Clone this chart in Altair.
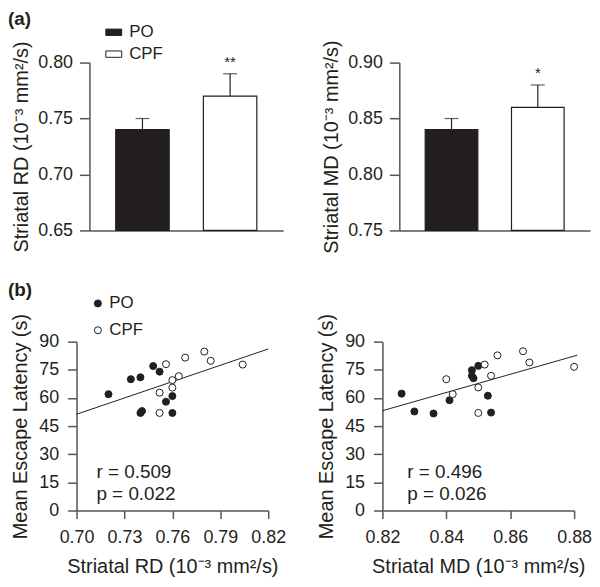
import altair as alt
import pandas as pd

# ---------------- data ----------------
groups = ["PO", "CPF"]
rd_mean = [0.74, 0.77]
rd_err = [0.01, 0.02]
rd_sig = ["", "**"]
md_mean = [0.84, 0.86]
md_err = [0.01, 0.02]
md_sig = ["", "*"]

po_rd = [0.720, 0.734, 0.740, 0.740, 0.741, 0.748, 0.752, 0.756, 0.760, 0.760]
po_rd_lat = [62, 70, 71, 52, 53, 77, 74, 58, 61, 52]
cpf_rd = [0.756, 0.768, 0.780, 0.784, 0.804, 0.764, 0.760, 0.760, 0.752, 0.752]
cpf_rd_lat = [78, 81.5, 84.7, 79.8, 77.8, 71.6, 69.5, 65.5, 62.8, 52]

po_md = [0.826, 0.830, 0.836, 0.841, 0.848, 0.848, 0.8485, 0.850, 0.853, 0.854]
po_md_lat = [62.3, 52.8, 51.7, 58.8, 74.8, 71.8, 70.5, 77.1, 61.2, 52.2]
cpf_md = [0.840, 0.842, 0.850, 0.850, 0.852, 0.854, 0.856, 0.864, 0.866, 0.880]
cpf_md_lat = [70, 62, 65.6, 52, 77.8, 71.8, 82.7, 84.9, 78.9, 76.6]

fit_rd_x = [0.70, 0.82]
fit_rd_y = [51.3, 86.1]
fit_md_x = [0.82, 0.881]
fit_md_y = [53.2, 82.8]

r_text = ["r = 0.509", "r = 0.496"]
p_text = ["p = 0.022", "p = 0.026"]

rd_title = "Striatal RD (10\u207b\u00b3 mm\u00b2/s)"
md_title = "Striatal MD (10\u207b\u00b3 mm\u00b2/s)"
lat_title = "Mean Escape Latency (s)"

# ---------------- style ----------------
FONT = "Liberation Sans"
INK = "#231f20"
AXC = "#555555"
TICK_FS = 18
TITLE_FS = 20


def label_text(txt, x, y, size=19, weight="bold"):
    return alt.Chart(pd.DataFrame({"t": [txt]})).mark_text(
        align="left", baseline="middle", fontSize=size, fontWeight=weight,
        font=FONT, color=INK
    ).encode(text="t:N", x=alt.value(x), y=alt.value(y))


def bar_panel(means, errs, sig, dom, ticks, ytitle, w, h, inset, legend,
              panel_label):
    df = pd.DataFrame({
        "group": groups,
        "mean": means,
        "upper": [m + e for m, e in zip(means, errs)],
        "sig": sig,
    })
    xscale = alt.Scale(paddingInner=0.39, paddingOuter=0.3,
                       range=[inset, w])
    xenc = alt.X("group:N", sort=groups, scale=xscale,
                 axis=alt.Axis(title=None, labels=False, ticks=False,
                               domainColor=AXC, domainWidth=1.5))
    fill_legend = None
    if legend:
        fill_legend = alt.Legend(
            orient="none", legendX=inset + 16, legendY=-39, title=None,
            symbolType="M-1,-0.4L1,-0.4L1,0.4L-1,0.4Z", symbolSize=256,
            symbolStrokeColor=INK, symbolStrokeWidth=1,
            labelFontSize=17, labelFont=FONT, labelColor=INK,
            labelOffset=7, rowPadding=4)
    bars = alt.Chart(df).mark_bar(stroke=INK, strokeWidth=1.2).encode(
        x=xenc,
        y=alt.Y("mean:Q",
                scale=alt.Scale(domain=dom, zero=False, nice=False),
                axis=alt.Axis(title=ytitle, values=ticks, format=".2f",
                              offset=-inset,
                              tickSize=10, labelPadding=7, titlePadding=6,
                              grid=False, domainColor=AXC, tickColor=AXC,
                              domainWidth=1.5, tickWidth=1.5,
                              labelFontSize=TICK_FS, titleFontSize=TITLE_FS,
                              titleFontWeight="normal")),
        y2=alt.datum(dom[0]),
        fill=alt.Fill("group:N", sort=groups,
                      scale=alt.Scale(domain=groups, range=[INK, "white"]),
                      legend=fill_legend),
    )
    err = alt.Chart(df).mark_rule(color=INK, strokeWidth=1.2).encode(
        x=alt.X("group:N", sort=groups), y="mean:Q", y2="upper:Q")
    cap = alt.Chart(df).mark_tick(color=INK, thickness=1.2, size=14).encode(
        x=alt.X("group:N", sort=groups), y="upper:Q")
    star = alt.Chart(df).mark_text(fontSize=15, font=FONT, color=INK, dy=-12).encode(
        x=alt.X("group:N", sort=groups), y="upper:Q", text="sig:N")
    layers = [bars, err, cap, star]
    if panel_label:
        layers.append(label_text(panel_label, -69, -44))
    return alt.layer(*layers).properties(width=w, height=h)


def scatter_panel(po_x, po_y, cpf_x, cpf_y, fx, fy, dom, ticks, xtitle,
                  r, p, w, h, legend, panel_label, txt_x):
    df = pd.DataFrame({
        "x": po_x + cpf_x,
        "y": po_y + cpf_y,
        "group": ["PO"] * len(po_x) + ["CPF"] * len(cpf_x),
    })
    fit = pd.DataFrame({"x": fx, "y": fy})
    xs = alt.Scale(domain=dom, zero=False, nice=False)
    ys = alt.Scale(domain=[0, 90], nice=False)
    fill_legend = None
    if legend:
        fill_legend = alt.Legend(
            orient="none", legendX=13, legendY=-47, title=None,
            symbolType="circle", symbolSize=50,
            symbolStrokeColor=INK, symbolStrokeWidth=1, symbolOpacity=1,
            labelFontSize=17, labelFont=FONT, labelColor=INK,
            labelOffset=3, rowPadding=9)
    xaxis = alt.Axis(title=xtitle, values=ticks, format=".2f", tickSize=8,
                     labelPadding=10, titlePadding=10, grid=False,
                     domainColor=AXC, tickColor=AXC, domainWidth=1.5,
                     tickWidth=1.5, labelFontSize=TICK_FS,
                     titleFontSize=TITLE_FS, labelOverlap=False,
                     titleFontWeight="normal", labelFlush=False)
    yaxis = alt.Axis(title=lat_title, values=[0, 15, 30, 45, 60, 75, 90],
                     tickSize=9, labelPadding=9, titlePadding=8, grid=False,
                     domainColor=AXC, tickColor=AXC, domainWidth=1.5,
                     tickWidth=1.5, labelFontSize=TICK_FS,
                     titleFontSize=TITLE_FS, labelOverlap=False,
                     titleFontWeight="normal")
    line = alt.Chart(fit).mark_line(color=INK, strokeWidth=1).encode(
        x=alt.X("x:Q", scale=xs, axis=xaxis),
        y=alt.Y("y:Q", scale=ys, axis=yaxis))
    pts = alt.Chart(df).mark_circle(size=50, stroke=INK, strokeWidth=1,
                                    opacity=1).encode(
        x=alt.X("x:Q", scale=xs, axis=xaxis),
        y=alt.Y("y:Q", scale=ys, axis=yaxis),
        fill=alt.Fill("group:N", sort=groups,
                      scale=alt.Scale(domain=groups, range=[INK, "white"]),
                      legend=fill_legend),
    )
    layers = [line, pts,
              label_text(r, txt_x, 131, size=19, weight="normal"),
              label_text(p, txt_x, 153, size=19, weight="normal")]
    if panel_label:
        layers.append(label_text(panel_label, -69, -52))
    return alt.layer(*layers).properties(width=w, height=h)


A = bar_panel(rd_mean, rd_err, rd_sig, [0.65, 0.80], [0.65, 0.70, 0.75, 0.80],
              rd_title, 208, 169, 13, True, "(a)")
B = bar_panel(md_mean, md_err, md_sig, [0.75, 0.90], [0.75, 0.80, 0.85, 0.90],
              md_title, 192, 169, 0, False, None)
C = scatter_panel(po_rd, po_rd_lat, cpf_rd, cpf_rd_lat, fit_rd_x, fit_rd_y,
                  [0.70, 0.82], [0.70, 0.73, 0.76, 0.79, 0.82], rd_title,
                  r_text[0], p_text[0], 193, 170, True, "(b)", 20)
D = scatter_panel(po_md, po_md_lat, cpf_md, cpf_md_lat, fit_md_x, fit_md_y,
                  [0.82, 0.88], [0.82, 0.84, 0.86, 0.88], md_title,
                  r_text[1], p_text[1], 193, 170, False, None, 25)

row1 = alt.hconcat(A, B, spacing=38).resolve_scale(fill="independent")
row2 = alt.hconcat(C, D, spacing=30).resolve_scale(fill="independent")

chart = alt.vconcat(row1, row2, spacing=28).properties(
    padding={"left": 0, "top": 0, "right": 0, "bottom": 0}
).configure_view(stroke=None).configure_axis(
    labelFont=FONT, titleFont=FONT, labelColor=INK, titleColor=INK
).configure_text(font=FONT)

chart.save("out.html", embed_options={"renderer": "svg", "actions": False})
